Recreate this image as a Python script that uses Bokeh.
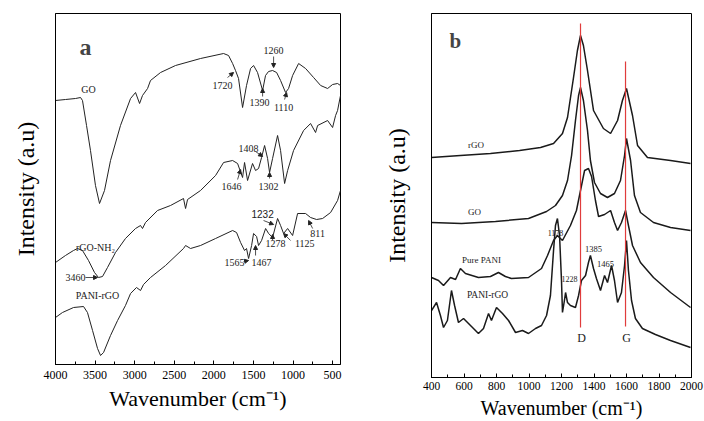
from bokeh.plotting import figure
from bokeh.layouts import row
from bokeh.models import Range1d, SingleIntervalTicker, FixedTicker, Label, Arrow, NormalHead
from bokeh.embed import file_html
from bokeh.resources import INLINE

SERIF = "Liberation Serif"

# ---------------- Panel a: FTIR ----------------
go_ftir_w = [4000, 3874, 3747, 3684, 3659, 3608, 3558, 3495, 3444, 3381, 3305, 3179, 3052, 2989, 2938,
             2901, 2837, 2800, 2673, 2484, 2168, 1877, 1814, 1763, 1726, 1688, 1637, 1587, 1536, 1498,
             1448, 1384, 1347, 1309, 1258, 1207, 1157, 1094, 1056, 1005, 929, 841, 740, 651, 563, 500, 437, 400]
go_ftir_i = [264, 265, 266, 267, 264, 239, 214, 179, 161, 174, 204, 239, 266, 272, 261,
             269, 276, 284, 292, 299, 306, 311, 309, 301, 294, 286, 257, 279, 296, 299,
             292, 274, 289, 293, 294, 292, 284, 272, 276, 289, 301, 296, 287, 279, 276, 280, 281, 279]

nh2_ftir_w = [4000, 3874, 3773, 3722, 3659, 3583, 3507, 3457, 3406, 3343, 3242, 3116, 2989, 2926, 2901,
              2863, 2711, 2547, 2383, 2357, 2332, 2168, 1978, 1877, 1763, 1700, 1637, 1612, 1574, 1511,
              1473, 1435, 1397, 1359, 1321, 1296, 1258, 1195, 1157, 1106, 1068, 993, 866, 778, 715, 689,
              563, 500, 462, 437, 400]
nh2_ftir_i = [102, 109, 114, 116, 114, 104, 92, 87, 88, 97, 112, 126, 136, 139, 136,
              142, 154, 159, 166, 156, 165, 174, 189, 202, 204, 201, 187, 202, 184, 201,
              194, 196, 207, 219, 206, 192, 206, 229, 214, 181, 194, 214, 234, 241, 232, 239,
              244, 237, 249, 254, 269]

pani_ftir_w = [4000, 3912, 3772, 3646, 3596, 3532, 3469, 3431, 3393, 3305, 3216, 3116, 3052, 2977, 2926,
               2888, 2800, 2610, 2383, 2357, 2294, 2168, 1978, 1763, 1713, 1662, 1612, 1587, 1561, 1523,
               1498, 1460, 1435, 1397, 1346, 1308, 1258, 1195, 1157, 1119, 1068, 1005, 942, 841, 778,
               702, 626, 525, 437, 400]
pani_ftir_i = [47, 52, 57, 58, 52, 34, 16, 9, 12, 29, 44, 59, 71, 77, 74,
               80, 87, 99, 116, 119, 116, 119, 126, 134, 132, 122, 114, 116, 106, 119,
               131, 128, 119, 124, 136, 131, 127, 146, 139, 131, 136, 129, 151, 151, 147,
               145, 146, 152, 164, 174]

ftir_labels = ["GO", "1720", "1260", "1390", "1110", "1408", "1646", "1302", "rGO-NH\u2082",
               "3460", "PANI-rGO", "1232", "1278", "1125", "811", "1565", "1467"]
ftir_label_w = [3583, 1890, 1245, 1422, 1119, 1561, 1776, 1309, 3495, 3747, 3469, 1384, 1220, 852, 689, 1738, 1397]
ftir_label_i = [275, 279, 314, 262, 257, 216, 178, 178, 117, 87, 69, 151, 121, 121, 131, 102, 102]

# arrows: (tail_w, tail_i) -> (head_w, head_i)
ftir_arrow_w0 = [1827, 1245, 1384, 1106, 1473, 1700, 1296, 3621, 1372, 1258, 1031, 752, 1624, 1473]
ftir_arrow_i0 = [287, 308, 268, 265, 213, 185, 186, 87, 144, 124, 124, 136, 103, 109]
ftir_arrow_w1 = [1751, 1245, 1384, 1081, 1384, 1662, 1296, 3469, 1245, 1258, 1119, 803, 1561, 1473]
ftir_arrow_i1 = [292, 297, 276, 272, 208, 195, 192, 87, 140, 130, 131, 144, 104, 119]

# ---------------- Panel b: Raman ----------------
rgo_w = [400, 578, 763, 942, 1071, 1151, 1206, 1237, 1274, 1298, 1317, 1335, 1360, 1397, 1458, 1502,
         1545, 1575, 1600, 1637, 1668, 1729, 1871, 1994]
rgo_i = [220, 222, 224, 227, 230, 234, 244, 260, 300, 327, 342, 332, 307, 267, 249, 244,
         257, 277, 289, 262, 232, 220, 217, 214]

go_w = [400, 585, 794, 997, 1108, 1163, 1206, 1237, 1262, 1286, 1305, 1317, 1335, 1360, 1378, 1403,
        1440, 1483, 1526, 1563, 1588, 1600, 1625, 1649, 1686, 1766, 1871, 1994]
go_i = [155, 154, 156, 159, 166, 172, 182, 197, 222, 257, 282, 290, 277, 247, 217, 195,
        184, 180, 184, 197, 222, 239, 217, 182, 165, 155, 150, 147]

pani_w = [400, 443, 474, 517, 548, 578, 609, 689, 763, 812, 855, 892, 997, 1077, 1114, 1151, 1175,
          1206, 1255, 1292, 1317, 1342, 1366, 1385, 1409, 1428, 1465, 1502, 1526, 1545, 1569, 1594,
          1612, 1637, 1686, 1766, 1871, 1994]
pani_i = [100, 97, 92, 100, 98, 109, 104, 100, 101, 105, 101, 99, 100, 109, 122, 137, 142,
          137, 152, 167, 187, 207, 209, 201, 177, 161, 163, 167, 155, 147, 155, 167,
          152, 132, 115, 100, 85, 70]

panirgo_w = [400, 431, 455, 474, 498, 523, 542, 566, 597, 640, 689, 720, 751, 769, 800, 837, 874, 917,
             960, 997, 1040, 1077, 1108, 1132, 1151, 1163, 1175, 1188, 1200, 1206, 1218, 1225, 1237,
             1255, 1286, 1305, 1323, 1348, 1366, 1378, 1397, 1415, 1440, 1465, 1483, 1508, 1526, 1545,
             1569, 1588, 1600, 1612, 1631, 1655, 1698, 1778, 1871, 1994]
panirgo_i = [67, 75, 62, 50, 57, 87, 72, 55, 59, 52, 44, 49, 64, 57, 70, 64, 57, 45,
             47, 44, 49, 52, 62, 82, 127, 152, 159, 142, 97, 65, 77, 85, 75,
             72, 70, 82, 97, 102, 115, 122, 109, 99, 87, 102, 95, 112, 97, 75,
             85, 112, 137, 107, 77, 59, 49, 43, 37, 30]

raman_labels = ["rGO", "GO", "Pure PANI", "PANI-rGO", "1178", "1228", "1385", "1465", "D", "G"]
raman_label_w = [674, 665, 708, 745, 1163, 1249, 1397, 1471, 1323, 1600]
raman_label_i = [233, 166, 118, 83, 145, 99, 129, 114, 40, 40]
raman_label_size = [9, 9, 9, 9.5, 8, 8, 8.5, 8.5, 12, 12]

d_band = 1317
g_band = 1594
d_line_i = [50, 354]
g_line_i = [51, 316]

# ================= build panel a =================
pa = figure(frame_width=285, frame_height=351, output_backend="svg", toolbar_location=None,
            x_range=Range1d(4000, 400), y_range=Range1d(0, 351),
            min_border_left=55, min_border_right=32, min_border_top=13, min_border_bottom=57)
for w, i in [(go_ftir_w, go_ftir_i), (nh2_ftir_w, nh2_ftir_i), (pani_ftir_w, pani_ftir_i)]:
    pa.line(w, i, line_color="#222222", line_width=1)

pb = figure(frame_width=260, frame_height=364, output_backend="svg", toolbar_location=None,
            x_range=Range1d(400, 2000), y_range=Range1d(0, 364),
            min_border_left=59, min_border_right=13, min_border_top=13, min_border_bottom=30)
for w, i in [(rgo_w, rgo_i), (go_w, go_i), (pani_w, pani_i), (panirgo_w, panirgo_i)]:
    pb.line(w, i, line_color="#1a1a1a", line_width=1.5)
pb.line([d_band, d_band], d_line_i, line_color="#e03c3c", line_width=1.2)
pb.line([g_band, g_band], g_line_i, line_color="#e03c3c", line_width=1.2)

for p, interval, title_size, tick_size, lstand, tstand, ystand in [
        (pa, 500, "22px", "12px", 6, 4, 17), (pb, 200, "20px", "11.5px", 4, 4, 22)]:
    p.grid.visible = False
    p.outline_line_color = "black"
    p.outline_line_width = 1
    p.background_fill_color = "white"
    p.border_fill_color = "white"
    xa = p.xaxis[0]
    xa.ticker = SingleIntervalTicker(interval=interval, num_minor_ticks=2)
    xa.major_tick_in = 4
    xa.major_tick_out = 0
    xa.minor_tick_in = 3
    xa.minor_tick_out = 0
    xa.axis_line_color = "black"
    xa.major_label_text_font = SERIF
    xa.major_label_text_font_size = tick_size
    xa.major_label_text_color = "black"
    xa.major_label_standoff = lstand
    xa.axis_label = "Wavenumber (cm\u207b\u00b9)"
    xa.axis_label_text_font = SERIF
    xa.axis_label_text_font_size = title_size
    xa.axis_label_text_font_style = "normal"
    xa.axis_label_text_color = "black"
    xa.axis_label_standoff = tstand
    ya = p.yaxis[0]
    ya.ticker = FixedTicker(ticks=[])
    ya.major_tick_out = 0
    ya.major_tick_in = 0
    ya.minor_tick_out = 0
    ya.major_label_standoff = 0
    ya.axis_line_color = "black"
    ya.axis_label = "Intensity (a.u)"
    ya.axis_label_text_font = SERIF
    ya.axis_label_text_font_size = "24px"
    ya.axis_label_text_font_style = "normal"
    ya.axis_label_text_color = "black"
    ya.axis_label_standoff = ystand

# panel letters
pa.add_layout(Label(x=3621, y=318, text="a", text_font=SERIF, text_font_size="24px",
                    text_font_style="bold", text_align="center", text_baseline="middle"))
pb.add_layout(Label(x=546, y=337, text="b", text_font=SERIF, text_font_size="21px",
                    text_font_style="bold", text_align="center", text_baseline="middle"))

for t, w, i in zip(ftir_labels, ftir_label_w, ftir_label_i):
    font = "Liberation Sans" if t == "1232" else SERIF
    pa.add_layout(Label(x=w, y=i, text=t, text_font=font, text_font_size="10px",
                        text_color="#222222", text_align="center", text_baseline="middle"))
for w0, i0, w1, i1 in zip(ftir_arrow_w0, ftir_arrow_i0, ftir_arrow_w1, ftir_arrow_i1):
    pa.add_layout(Arrow(x_start=w0, y_start=i0, x_end=w1, y_end=i1, line_width=0.8,
                        line_color="#222222",
                        end=NormalHead(size=4, fill_color="#222222", line_color="#222222")))

for t, w, i, s in zip(raman_labels, raman_label_w, raman_label_i, raman_label_size):
    pb.add_layout(Label(x=w, y=i, text=t, text_font=SERIF, text_font_size=f"{s}px",
                        text_color="#222222", text_align="center", text_baseline="middle"))

layout = row(pa, pb)
open("out.html", "w").write(file_html(layout, INLINE))
